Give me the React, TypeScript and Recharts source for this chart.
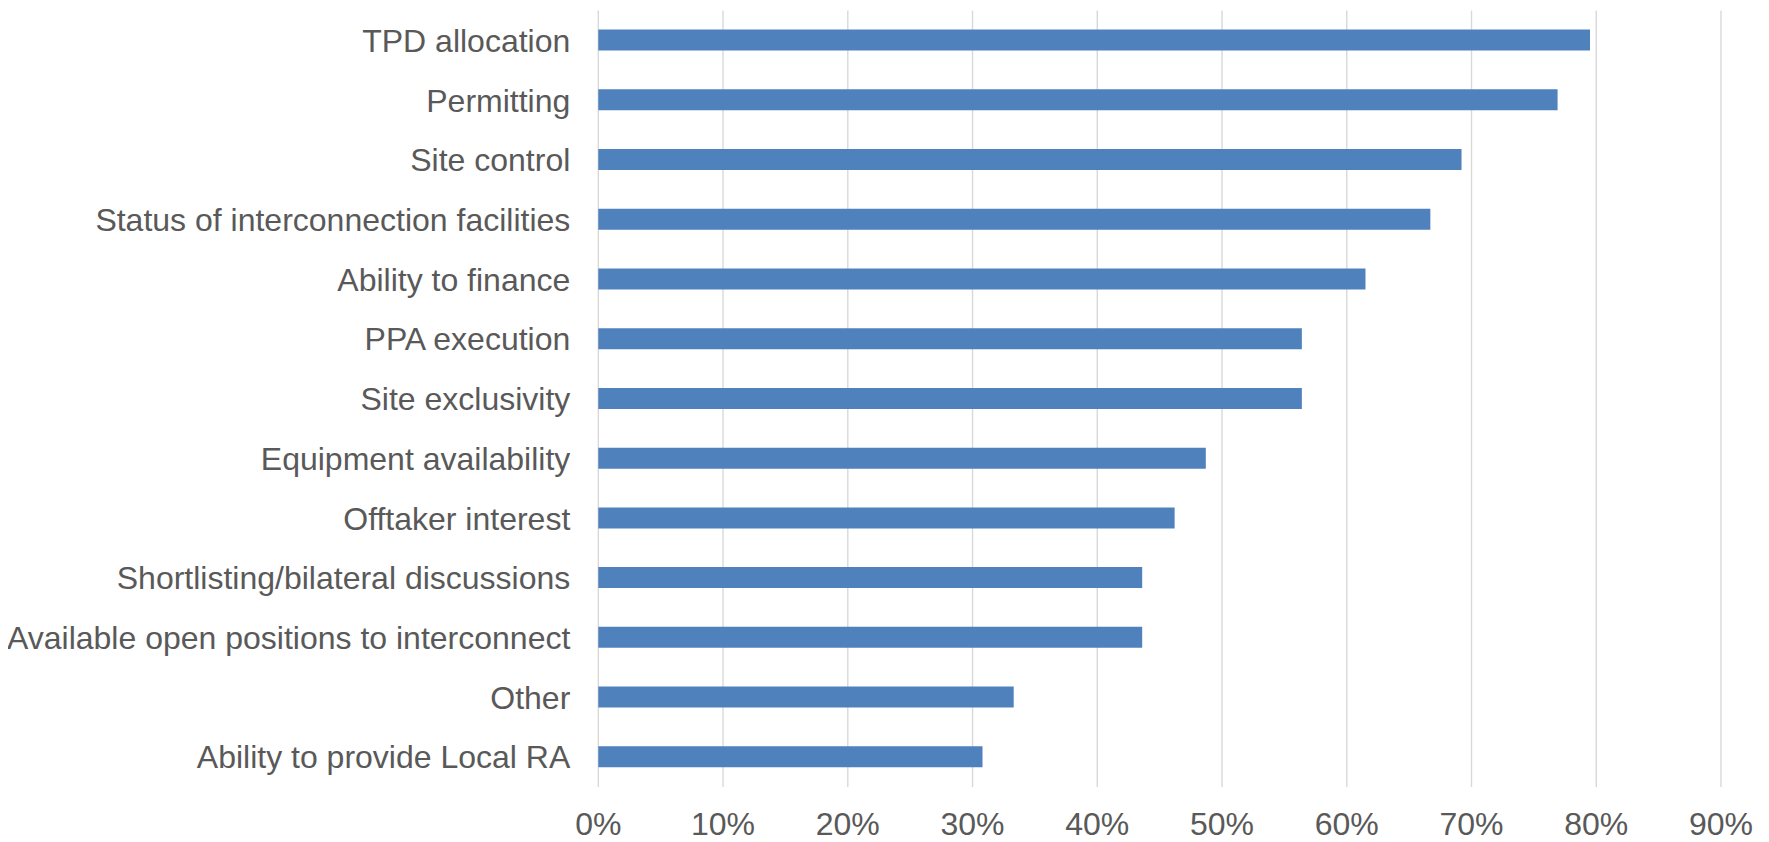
import React from "react";
import { BarChart, Bar, XAxis, YAxis, CartesianGrid } from "recharts";

const categories = [
  "TPD allocation",
  "Permitting",
  "Site control",
  "Status of interconnection facilities",
  "Ability to finance",
  "PPA execution",
  "Site exclusivity",
  "Equipment availability",
  "Offtaker interest",
  "Shortlisting/bilateral discussions",
  "Available open positions to interconnect",
  "Other",
  "Ability to provide Local RA",
];

const values = [79.5, 76.9, 69.2, 66.7, 61.5, 56.4, 56.4, 48.7, 46.2, 43.6, 43.6, 33.3, 30.8];

const xTicks = [0, 10, 20, 30, 40, 50, 60, 70, 80, 90];

const data = categories.map((name, i) => ({ name, value: values[i] }));

const FONT = "'Liberation Sans', Arial, sans-serif";
const TEXT = "#595959";

export default function App() {
  return (
    <div style={{ width: 1761, height: 834, fontFamily: FONT }}>
      <BarChart
        width={1761}
        height={834}
        data={data}
        layout="vertical"
        margin={{ top: 2.6, right: 48, bottom: 0, left: 0 }}
        barCategoryGap={0}
      >
        <CartesianGrid horizontal={false} vertical={true} stroke="#D9D9D9" strokeWidth={1.4} />
        <XAxis
          type="number"
          domain={[0, 90]}
          ticks={xTicks}
          interval={0}
          tickFormatter={(v) => `${v}%`}
          axisLine={false}
          tickLine={false}
          tickSize={0}
          tickMargin={25.5}
          height={55}
          tick={{ fill: TEXT, fontSize: 32, fontFamily: FONT }}
        />
        <YAxis
          type="category"
          dataKey="name"
          width={590.3}
          axisLine={false}
          tickLine={false}
          tickSize={0}
          tickMargin={28}
          interval={0}
          tick={{ fill: TEXT, fontSize: 32, fontFamily: FONT }}
        />
        <Bar dataKey="value" fill="#4F81BD" barSize={21} isAnimationActive={false} />
      </BarChart>
    </div>
  );
}
